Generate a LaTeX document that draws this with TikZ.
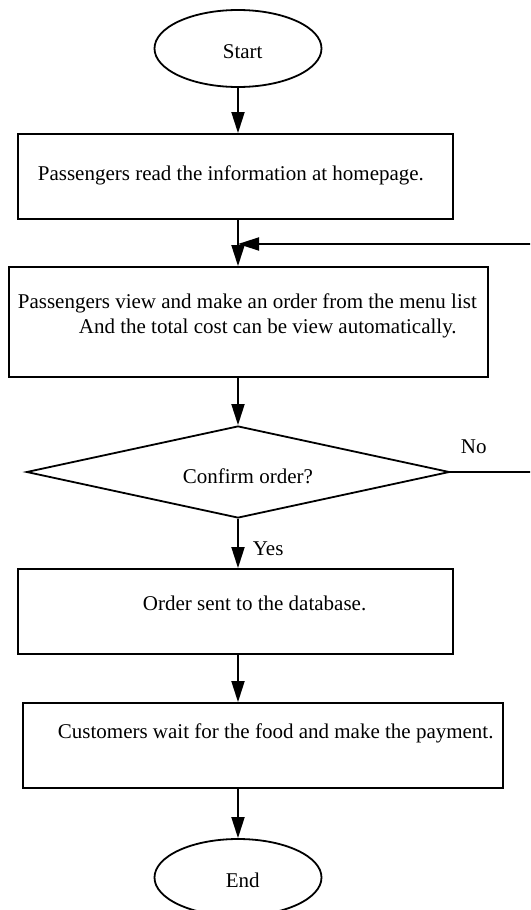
\documentclass[tikz,border=0pt]{standalone}
\usepackage{fontspec}
\setmainfont{Liberation Serif}
\usetikzlibrary{shapes.geometric,arrows.meta}
\begin{document}
\begin{tikzpicture}[x=1pt,y=-1pt,
  line width=1.8pt,
  box/.style={draw, rectangle, inner sep=0pt},
  term/.style={draw, ellipse, inner sep=0pt, minimum width=167pt, minimum height=77pt},
  txt/.style={anchor=base west, inner sep=0pt, font=\fontsize{21}{24}\selectfont},
  arr/.style={-{Triangle[length=21pt,width=13pt]}},
]
\useasboundingbox (0,0) rectangle (530,910);
\clip (0,0) rectangle (530,910);

\node[term] (start) at (238,48.5) {};
\node[box, minimum width=435pt, minimum height=85pt] (box1) at (235.5,176.5) {};
\node[box, minimum width=479pt, minimum height=110pt] (box2) at (248.5,322) {};
\node[draw, diamond, inner sep=0pt, minimum width=423pt, minimum height=92pt] (dia) at (238,472) {};
\node[box, minimum width=435pt, minimum height=85pt] (box3) at (235.5,611.5) {};
\node[box, minimum width=480pt, minimum height=85pt] (box4) at (263,745.5) {};
\node[term] (end) at (238,877.5) {};

\node[txt] (tstart) at (222,58) {Start};
\node[txt] (t1) at (37,180) {Passengers read the information at homepage.};
\node[txt] (t2a) at (17,308) {Passengers view and make an order from the menu list};
\node[txt] (t2b) at (78,333) {And the total cost can be view automatically.};
\node[txt] (tdia) at (182,483) {Confirm order?};
\node[txt] (tno) at (460,453) {No};
\node[txt] (tyes) at (252,555) {Yes};
\node[txt] (t3) at (142,610) {Order sent to the database.};
\node[txt] (t4) at (57,738) {Customers wait for the food and make the payment.};
\node[txt] (tend) at (225,887) {End};

\coordinate (ax) at (238,0);
\coordinate (fbR) at (560,244);
\coordinate (fbJ) at (238,244);

\draw[arr] (start.south) -- (ax |- box1.north);
\draw[arr] (box1.south -| ax) -- (box2.north -| ax);
\draw[arr] (box2.south -| ax) -- (dia.north);
\draw[arr] (dia.south) -- (box3.north -| ax);
\draw[arr] (box3.south -| ax) -- (box4.north -| ax);
\draw[arr] (box4.south -| ax) -- (end.north);
\draw[arr] (dia.east) -| (fbR) -- (fbJ);
\end{tikzpicture}
\end{document}
